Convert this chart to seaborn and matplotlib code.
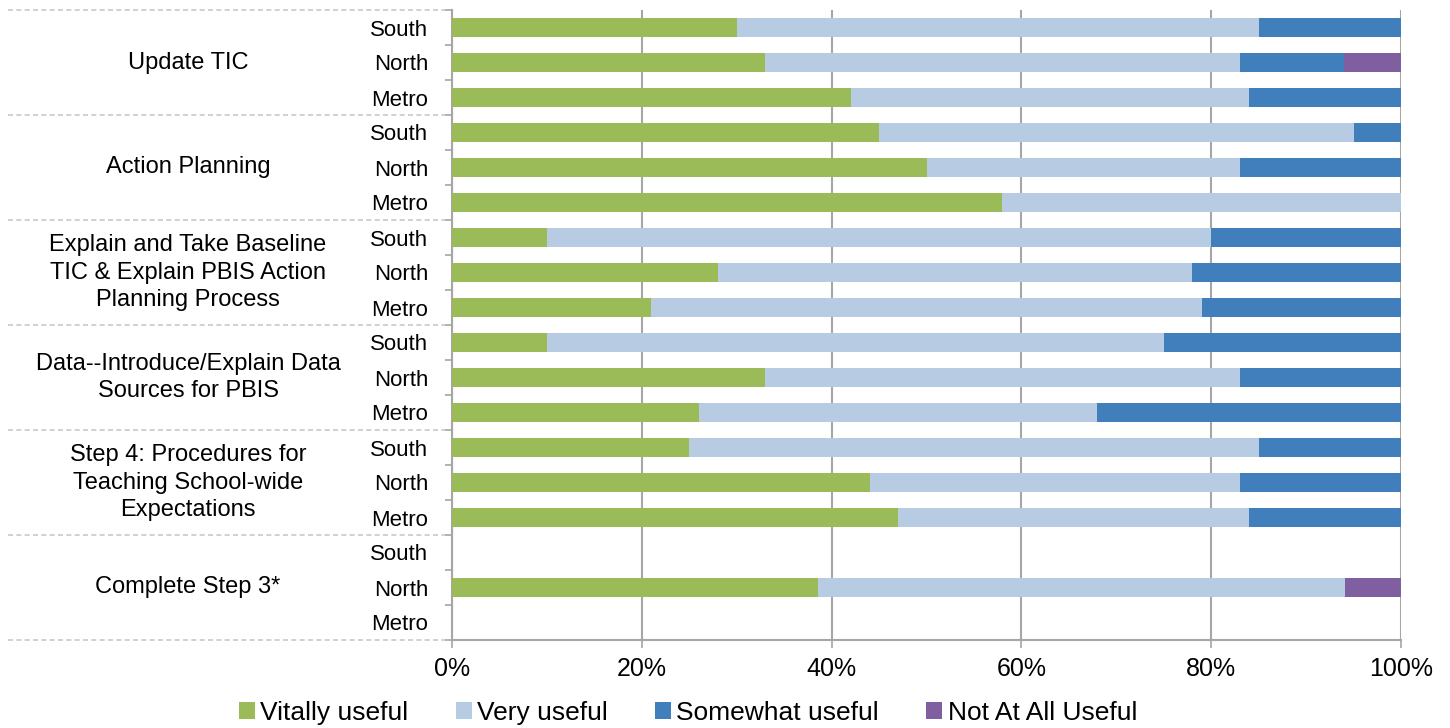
import numpy as np
import pandas as pd
import matplotlib
matplotlib.use("Agg")
import matplotlib.pyplot as plt
import matplotlib.transforms as mtransforms
from matplotlib.patches import Patch
import seaborn as sns

# ---------------- data ----------------
groups = [
    "Update TIC",
    "Action Planning",
    "Explain and Take Baseline\nTIC & Explain PBIS Action\nPlanning Process",
    "Data--Introduce/Explain Data\nSources for PBIS",
    "Step 4: Procedures for\nTeaching School-wide\nExpectations",
    "Complete Step 3*",
]
regions = ["South", "North", "Metro"]
series_names = ["Vitally useful", "Very useful", "Somewhat useful", "Not At All Useful"]

vitally = [30, 33, 42, 45, 50, 58, 10, 28, 21, 10, 33, 26, 25, 44, 47, 0, 38.6, 0]
very = [55, 50, 42, 50, 33, 42, 70, 50, 58, 65, 50, 42, 60, 39, 37, 0, 55.5, 0]
somewhat = [15, 11, 16, 5, 17, 0, 20, 22, 21, 25, 17, 32, 15, 17, 16, 0, 0, 0]
not_at_all = [0, 6, 0, 0, 0, 0, 0, 0, 0, 0, 0, 0, 0, 0, 0, 0, 5.9, 0]

x_ticks = [0, 20, 40, 60, 80, 100]
x_ticklabels = ["0%", "20%", "40%", "60%", "80%", "100%"]

colors = ["#9BBB59", "#B7CBE3", "#407EBC", "#7F5F9F"]

# ---------------- build table ----------------
row_keys = [f"{g}|{r}" for g in groups for r in regions]
row_region = [r for g in groups for r in regions]
vals = np.array([vitally, very, somewhat, not_at_all], dtype=float)
cums = np.cumsum(vals, axis=0)
df = pd.DataFrame({"row": row_keys})
for i, name in enumerate(series_names):
    df[name] = cums[i]

# ---------------- plot ----------------
sns.set_theme(style="white")
plt.rcParams["font.family"] = ["Liberation Sans", "DejaVu Sans"]
plt.rcParams["text.color"] = "black"
plt.rcParams["xtick.color"] = "black"
plt.rcParams["ytick.color"] = "black"
plt.rcParams["xtick.labelcolor"] = "black"
plt.rcParams["ytick.labelcolor"] = "black"

fig = plt.figure(figsize=(14.5, 7.28), dpi=100)
ax = fig.add_axes([452 / 1450, 1 - 640 / 728, (1401 - 452) / 1450, 630 / 728])

for i in range(len(series_names) - 1, -1, -1):
    sns.barplot(data=df, x=series_names[i], y="row", order=row_keys,
                color=colors[i], saturation=1, width=0.57, orient="h",
                ax=ax, zorder=3, linewidth=0)

ax.set_xlim(0, 100)
ax.set_ylim(len(row_keys) - 0.5, -0.5)
ax.set_xlabel("")
ax.set_ylabel("")

grid_c = "#A6A6A6"
ax.set_xticks(x_ticks)
ax.set_xticklabels(x_ticklabels, fontsize=18, color="black")
ax.set_yticks(range(len(row_keys)))
ax.set_yticklabels(row_region, fontsize=16, color="black")
ax.set_yticks(np.arange(-0.5, len(row_keys), 1), minor=True)
ax.tick_params(axis="y", which="major", length=0, pad=17)
ax.tick_params(axis="y", which="minor", length=5, width=1.2, color=grid_c, direction="out", left=True)
ax.tick_params(axis="x", which="major", length=6, width=1.2, color=grid_c, direction="out", bottom=True, pad=6)

ax.grid(axis="x", color=grid_c, linewidth=1.5, zorder=0)
ax.grid(axis="y", visible=False)
ax.set_axisbelow(True)
for s in ["top", "right"]:
    ax.spines[s].set_visible(False)
for s in ["left", "bottom"]:
    ax.spines[s].set_color(grid_c)
    ax.spines[s].set_linewidth(1.5)

# group separators and labels
trans = mtransforms.blended_transform_factory(fig.transFigure, ax.transData)
for b in np.arange(-0.5, len(row_keys), 3):
    ax.plot([8 / 1450, 445 / 1450], [b, b], transform=trans, clip_on=False,
            color="#C8C8C8", linestyle=(0, (3, 2)), linewidth=1.2)
for gi, g in enumerate(groups):
    ax.text(188 / 1450, gi * 3 + 1, g, transform=trans, ha="center", va="center",
            fontsize=17, linespacing=1.3, color="black")

handles = [Patch(facecolor=c, edgecolor="none", label=n) for c, n in zip(colors, series_names)]
leg = fig.legend(handles=handles, loc="center", bbox_to_anchor=(688 / 1450, 1 - 713 / 728), ncol=4,
                 frameon=False, fontsize=19, handlelength=0.6, handleheight=0.6,
                 handletextpad=0.2, columnspacing=1.8, borderpad=0)
for t in leg.get_texts():
    t.set_color("black")

fig.savefig("out.png", dpi=100)
